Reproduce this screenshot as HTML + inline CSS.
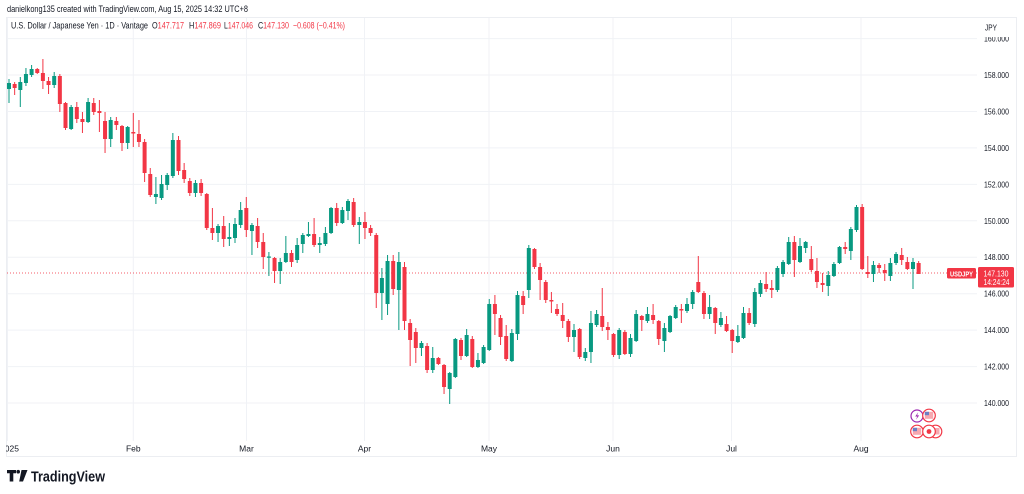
<!DOCTYPE html>
<html><head><meta charset="utf-8"><style>
html,body{margin:0;padding:0;background:#fff;width:1024px;height:494px;overflow:hidden}
svg{display:block}
text{font-family:"Liberation Sans",sans-serif}
</style></head><body>
<svg width="1024" height="494" viewBox="0 0 1024 494" xmlns="http://www.w3.org/2000/svg">
<rect width="1024" height="494" fill="#fff"/>
<text x="7" y="12" font-size="9.5" fill="#131722" textLength="241" lengthAdjust="spacingAndGlyphs">danielkong135 created with TradingView.com, Aug 15, 2025 14:32 UTC+8</text>
<!-- frame -->
<rect x="6.5" y="17.5" width="1010" height="439" fill="none" stroke="#eceef2" stroke-width="1"/>
<!-- grid -->
<g stroke="#f0f2f6" stroke-width="1">
<path d="M7 38.6H977M7 75H977M7 111.5H977M7 147.9H977M7 184.4H977M7 220.8H977M7 257.2H977M7 293.7H977M7 330.1H977M7 366.6H977M7 403H977"/>
<path d="M7.5 18V441M133.3 18V441M246.5 18V441M364.5 18V441M489 18V441M613 18V441M731.5 18V441M861 18V441"/>
</g>
<!-- current price line -->
<path d="M7 273H977" stroke="#f23645" stroke-width="1" stroke-dasharray="1 2" opacity="0.8"/>
<!-- candles -->
<g fill="none" stroke-linecap="butt">
<path stroke="#f23645" stroke-width="1" d="M14.65 82V95 M37.25 68V74 M42.9 59V89 M48.55 77V94 M59.85 74V112 M65.5 102V130 M76.8 102V123 M82.45 112V133 M93.75 98V115 M99.4 100V132 M105.05 112V153 M116.35 117V130 M122 125V151 M133.3 113V147 M138.95 120V147 M144.6 139V182 M150.25 168V197 M178.5 136V175 M184.15 163V183 M189.8 178V196 M201.1 179V196 M206.75 193V230 M212.4 208V240 M223.7 216V247 M246.3 197V237 M257.6 218V248 M263.25 233V269 M274.55 257V283 M291.5 250V267 M314.1 218V247 M336.7 203V226 M353.65 198V227 M364.95 212V239 M370.6 225V236 M376.25 233V308 M393.2 255V295 M404.5 262V330 M410.15 319V366 M415.8 328V363 M427.1 343V373 M438.4 357V365 M444.05 364V394 M461 338V360 M472.3 336V368 M494.9 295V335 M500.55 315V345 M506.2 325V361 M523.15 291V314 M534.45 248V269 M540.1 263V300 M545.75 280V303 M551.4 292V313 M557.05 304V316 M562.7 303V328 M568.35 319V342 M579.65 328V359 M602.25 288V331 M607.9 322V340 M613.55 333V357 M624.85 330V355 M641.8 315V331 M653.1 304V324 M658.75 320V345 M681.35 304V323 M698.3 256V293 M703.95 291V319 M715.25 307V334 M726.55 316V332 M732.2 329V353 M749.15 308V325 M766.1 272V292 M771.75 280V298 M794.35 236V277 M811.3 246V272 M816.95 258V288 M822.6 273V292 M845.2 242V254 M862.15 204V270 M867.8 256V278 M879.1 263V273 M884.75 264V281 M901.7 248V265 M907.35 257V270 M918.65 261V274"/>
<path stroke="#f23645" stroke-width="4" d="M14.65 84V88 M37.25 69V73 M42.9 73V81 M48.55 81V85 M59.85 76V104 M65.5 103V128 M76.8 107V119 M82.45 119V122 M93.75 103V112 M99.4 111V113 M105.05 121V139 M116.35 121V125 M122 126V143 M133.3 132V133.5 M138.95 134V142 M144.6 142V173 M150.25 174V195 M178.5 140V171 M184.15 170V179 M189.8 181V193 M201.1 183V193 M206.75 194V228 M212.4 228V233 M223.7 226V239 M246.3 208V230 M257.6 226V242 M263.25 242V257 M274.55 258V271 M291.5 253V262 M314.1 234V245 M336.7 208V223 M353.65 202V225 M364.95 222V228 M370.6 228V233 M376.25 235V293 M393.2 261V289 M404.5 267V321 M410.15 323V340 M415.8 332V348 M427.1 346V370 M438.4 358V364 M444.05 365V387 M461 340V356 M472.3 339V367 M494.9 304V314 M500.55 318V337 M506.2 336V359 M523.15 296V305 M534.45 249V267 M540.1 267V280 M545.75 282V300 M551.4 300V301.5 M557.05 309V314 M562.7 315V321 M568.35 321V337 M579.65 329V357 M602.25 316V327 M607.9 327V330 M613.55 334V355 M624.85 332V354 M641.8 316V320 M653.1 315V320 M658.75 321V339 M681.35 309V310.5 M698.3 282V292 M703.95 293V314 M715.25 308V323 M726.55 324V331 M732.2 330V341 M749.15 313V323 M766.1 284V289 M771.75 288V290 M794.35 242V260 M811.3 259V270 M816.95 271V282 M822.6 283V285 M845.2 247V249 M862.15 207V269 M867.8 272V274 M879.1 265V268 M884.75 270V273 M901.7 255V260 M907.35 262V269 M918.65 263V274"/>
<path stroke="#089981" stroke-width="1" d="M9 79V103 M20.3 77V107 M25.95 68V86 M31.6 65V77 M54.2 72V88 M71.15 105V130 M88.1 98V123 M110.7 117V147 M127.65 126V149 M155.9 177V204 M161.55 175V200 M167.2 173V190 M172.85 133V178 M195.45 180V197 M218.05 224V242 M229.35 223V246 M235 218V243 M240.65 202V228 M251.95 223V255 M268.9 252V276 M280.2 258V284 M285.85 236V263 M297.15 238V263 M302.8 233V253 M308.45 222V237 M319.75 237V253 M325.4 227V246 M331.05 207V234 M342.35 207V224 M348 199V220 M359.3 217V244 M381.9 268V320 M387.55 255V315 M398.85 252V330 M421.45 341V356 M432.75 347V373 M449.7 372V404 M455.35 338V378 M466.65 329V357 M477.95 353V368 M483.6 345V364 M489.25 299V351 M511.85 329V362 M517.5 291V340 M528.8 245V298 M574 324V352 M585.3 348V361 M590.95 311V363 M596.6 310V327 M619.2 328V359 M630.5 334V357 M636.15 310V342 M647.45 307V323 M664.4 323V352 M670.05 315V333 M675.7 305V319 M687 298V313 M692.65 290V309 M709.6 295V319 M720.9 312V327 M737.85 325V343 M743.5 307V339 M754.8 288V327 M760.45 280V297 M777.4 266V292 M783.05 260V277 M788.7 237V265 M800 238V263 M805.65 241V253 M828.25 271V296 M833.9 262V277 M839.55 246V264 M850.85 227V260 M856.5 205V232 M873.45 261V282 M890.4 258V281 M896.05 252V265 M913 258V289"/>
<path stroke="#089981" stroke-width="4" d="M9 83V89 M20.3 82V90 M25.95 74V83 M31.6 69V75 M54.2 76V85 M71.15 107V129 M88.1 102V122 M110.7 120V139 M127.65 127V143 M155.9 194V197 M161.55 184V198 M167.2 175V185 M172.85 140V176 M195.45 183V193 M218.05 226V233 M229.35 237V239 M235 224V238 M240.65 210V225 M251.95 225V231 M268.9 256.5V257.7 M280.2 262V271 M285.85 253V262 M297.15 245V260 M302.8 235V244 M308.45 234V236 M319.75 243V245 M325.4 233V244 M331.05 208V233 M342.35 210V223 M348 201V211 M359.3 222V225 M381.9 278V293 M387.55 261V304 M398.85 262V290 M421.45 343V348 M432.75 358V370 M449.7 373V389 M455.35 339V377 M466.65 335V356 M477.95 360V367 M483.6 347V363 M489.25 304V350 M511.85 333V361 M517.5 295V334 M528.8 248V290 M574 330V337 M585.3 352V358 M590.95 323V352 M596.6 314V325 M619.2 330V355 M630.5 338V354 M636.15 314V341 M647.45 314V321 M664.4 328V341 M670.05 316V332 M675.7 307V318 M687 304V311 M692.65 292V304 M709.6 307V314 M720.9 318V325 M737.85 336V342 M743.5 313V338 M754.8 292V324 M760.45 283V294 M777.4 268V290 M783.05 262V274 M788.7 242V264 M800 246V262 M805.65 242V248 M828.25 275V286 M833.9 264V276 M839.55 247V263 M850.85 229V251 M856.5 207V230 M873.45 265V274 M890.4 263V276 M896.05 254V263 M913 262V269"/>
</g>
<!-- legend -->
<g font-size="9" fill="#131722" lengthAdjust="spacingAndGlyphs">
<text x="11" y="28.5" textLength="137" lengthAdjust="spacingAndGlyphs">U.S. Dollar / Japanese Yen · 1D · Vantage</text>
<text x="152" y="28.5" textLength="32" lengthAdjust="spacingAndGlyphs">O<tspan fill="#f23645">147.717</tspan></text>
<text x="189" y="28.5" textLength="32" lengthAdjust="spacingAndGlyphs">H<tspan fill="#f23645">147.869</tspan></text>
<text x="224" y="28.5" textLength="29" lengthAdjust="spacingAndGlyphs">L<tspan fill="#f23645">147.046</tspan></text>
<text x="258" y="28.5" textLength="31" lengthAdjust="spacingAndGlyphs">C<tspan fill="#f23645">147.130</tspan></text>
<text x="293" y="28.5" fill="#f23645" textLength="52" lengthAdjust="spacingAndGlyphs">−0.608 (−0.41%)</text>
</g>
<!-- price axis -->
<g font-size="8.5" fill="#131722">
<text x="984" y="41.6" textLength="25" lengthAdjust="spacingAndGlyphs">160.000</text>
<text x="984" y="78" textLength="25" lengthAdjust="spacingAndGlyphs">158.000</text>
<text x="984" y="114.5" textLength="25" lengthAdjust="spacingAndGlyphs">156.000</text>
<text x="984" y="150.9" textLength="25" lengthAdjust="spacingAndGlyphs">154.000</text>
<text x="984" y="187.4" textLength="25" lengthAdjust="spacingAndGlyphs">152.000</text>
<text x="984" y="223.8" textLength="25" lengthAdjust="spacingAndGlyphs">150.000</text>
<text x="984" y="260.2" textLength="25" lengthAdjust="spacingAndGlyphs">148.000</text>
<text x="984" y="296.7" textLength="25" lengthAdjust="spacingAndGlyphs">146.000</text>
<text x="984" y="333.1" textLength="25" lengthAdjust="spacingAndGlyphs">144.000</text>
<text x="984" y="369.6" textLength="25" lengthAdjust="spacingAndGlyphs">142.000</text>
<text x="984" y="406" textLength="25" lengthAdjust="spacingAndGlyphs">140.000</text>
</g>
<rect x="979" y="18" width="37" height="19" fill="#fff"/>
<text x="985" y="30.5" font-size="8" fill="#131722" textLength="12" lengthAdjust="spacingAndGlyphs">JPY</text>
<!-- price labels -->
<rect x="947" y="268" width="29" height="10.5" rx="1.5" fill="#f23645"/>
<text x="950" y="276.3" font-size="7.5" fill="#fff" font-weight="bold" textLength="23" lengthAdjust="spacingAndGlyphs">USDJPY</text>
<rect x="978" y="267" width="36" height="20.5" rx="1.5" fill="#f23645"/>
<text x="983.5" y="276.3" font-size="8.5" fill="#fff" textLength="25" lengthAdjust="spacingAndGlyphs">147.130</text>
<text x="983.5" y="285" font-size="8.5" fill="#fff" textLength="26" lengthAdjust="spacingAndGlyphs">14:24:24</text>
<!-- events -->
<g>
<circle cx="917" cy="416" r="6" fill="#fff" stroke="#9c27b0" stroke-width="1.2"/>
<path d="M918.2 412.2L915.2 416.5H917.3L915.9 419.8L919.2 415.4H917.1Z" fill="#9c27b0"/>
<circle cx="929" cy="415.5" r="6.3" fill="#fff" stroke="#f23645" stroke-width="1.2"/>
<rect x="924.8" y="411.8" width="8.4" height="7" fill="#f7a8b0"/>
<rect x="924.8" y="411.8" width="4.2" height="3.4" fill="#6d7fc4"/>
<circle cx="917" cy="431.5" r="6.3" fill="#fff" stroke="#f23645" stroke-width="1.2"/>
<rect x="912.8" y="427.8" width="8.4" height="7" fill="#f7a8b0"/>
<rect x="912.8" y="427.8" width="4.2" height="3.4" fill="#6d7fc4"/>
<circle cx="935.5" cy="431.5" r="6.3" fill="#fff" stroke="#f23645" stroke-width="1.2"/>
<rect x="934.5" y="428" width="5" height="6.5" fill="#f7a8b0"/>
<circle cx="929" cy="431.5" r="6.3" fill="#fff" stroke="#f23645" stroke-width="1.2"/>
<circle cx="929" cy="431.5" r="2.4" fill="#f23645"/>
</g>
<!-- time axis -->
<defs><clipPath id="cp"><rect x="6" y="440" width="1010" height="17"/></clipPath></defs>
<g font-size="8.5" fill="#131722" text-anchor="middle" clip-path="url(#cp)">
<text x="9.5" y="451.5">2025</text>
<text x="133.3" y="451.5">Feb</text>
<text x="246.5" y="451.5">Mar</text>
<text x="364.5" y="451.5">Apr</text>
<text x="489" y="451.5">May</text>
<text x="613" y="451.5">Jun</text>
<text x="731.5" y="451.5">Jul</text>
<text x="861" y="451.5">Aug</text>
</g>
<!-- logo -->
<g fill="#131722">
<path d="M7 470H16V473.2H13.3V481.5H9.7V473.2H7Z"/>
<circle cx="18.2" cy="471.7" r="1.8"/>
<path d="M21.5 470H27.5L23 481.5H19.2Z"/>
</g>
<text x="31" y="481.3" font-size="14.5" font-weight="bold" fill="#131722" textLength="74" lengthAdjust="spacingAndGlyphs">TradingView</text>
</svg>
</body></html>
